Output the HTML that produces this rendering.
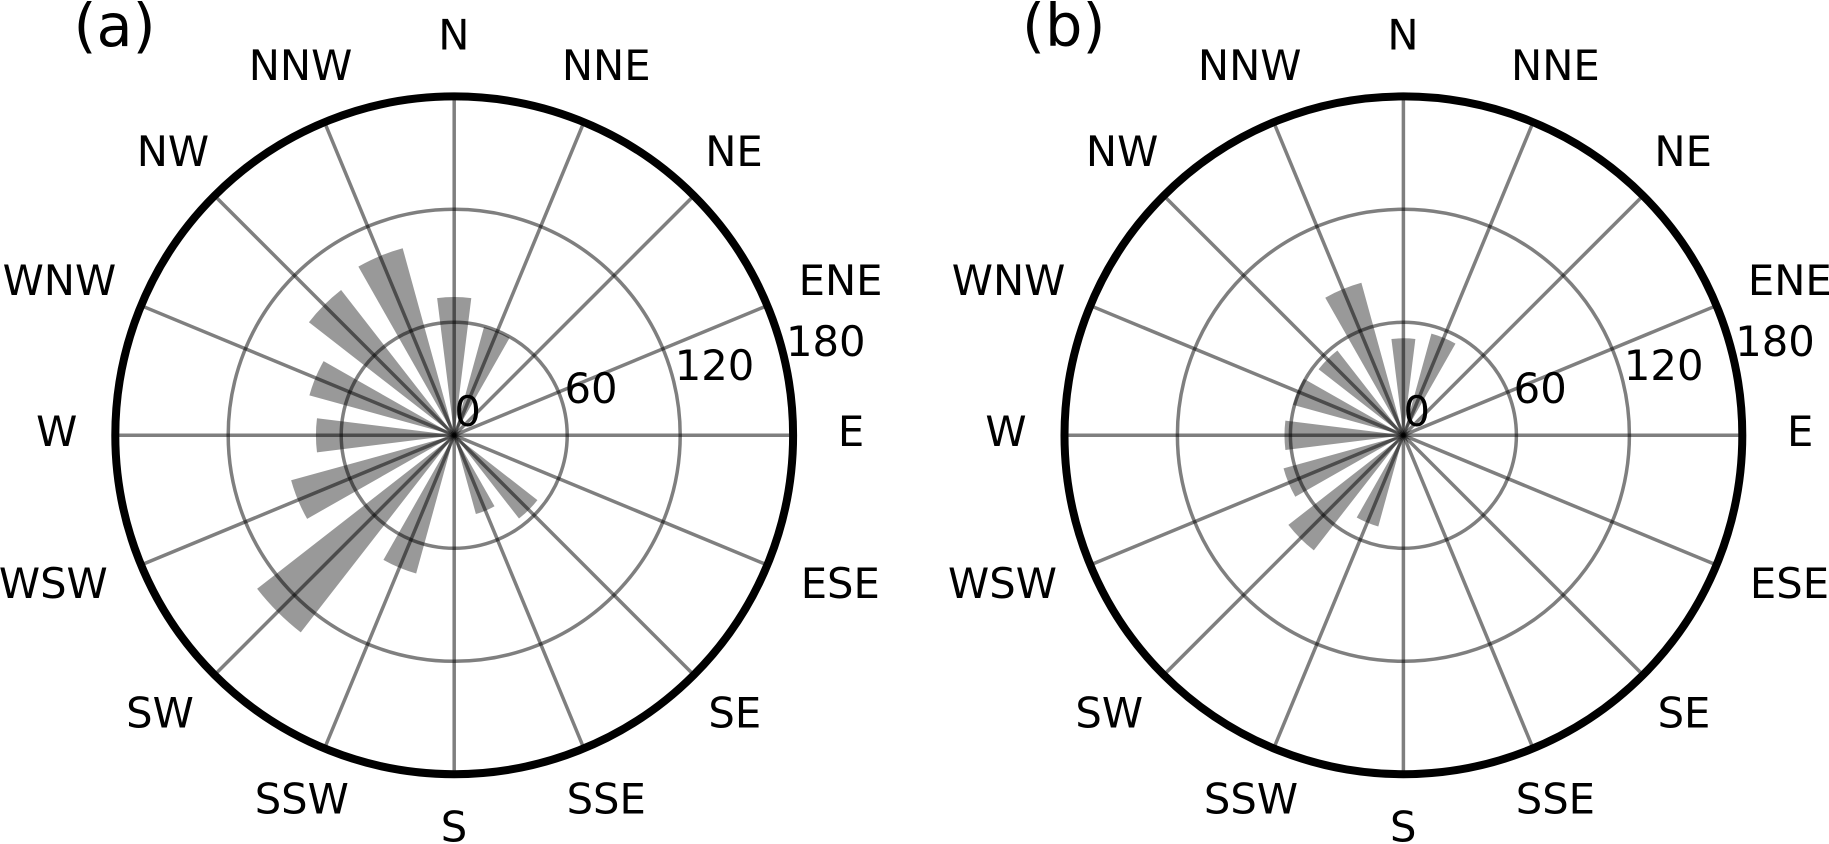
<!DOCTYPE html>
<html>
<head>
<meta charset="utf-8">
<style>
html,body{margin:0;padding:0;background:#fff;width:1829px;height:844px;overflow:hidden}
svg{display:block}
text{font-family:"DejaVu Sans","Liberation Sans",sans-serif;font-size:41.7px;fill:#000;text-anchor:middle}
.big{font-size:59px}
</style>
</head>
<body>
<svg width="1829" height="844" viewBox="0 0 1829 844" xmlns="http://www.w3.org/2000/svg">
<defs>
<g id="grid" fill="none" stroke="#000" stroke-opacity="0.5" stroke-width="3.5">
<circle r="113"/><circle r="226"/>
<path id="sp" d="M0 0V-339"/>
<path d="M0 0V-339" transform="rotate(22.5)"/>
<path d="M0 0V-339" transform="rotate(45)"/>
<path d="M0 0V-339" transform="rotate(67.5)"/>
<path d="M0 0V-339" transform="rotate(90)"/>
<path d="M0 0V-339" transform="rotate(112.5)"/>
<path d="M0 0V-339" transform="rotate(135)"/>
<path d="M0 0V-339" transform="rotate(157.5)"/>
<path d="M0 0V-339" transform="rotate(180)"/>
<path d="M0 0V-339" transform="rotate(202.5)"/>
<path d="M0 0V-339" transform="rotate(225)"/>
<path d="M0 0V-339" transform="rotate(247.5)"/>
<path d="M0 0V-339" transform="rotate(270)"/>
<path d="M0 0V-339" transform="rotate(292.5)"/>
<path d="M0 0V-339" transform="rotate(315)"/>
<path d="M0 0V-339" transform="rotate(337.5)"/>
</g>
</defs>

<!-- Panel a -->
<g transform="translate(454.2 435.3)">
<g fill="#000" fill-opacity="0.4" transform="scale(0.995)">
<path d="M0 0L-17.18 -137.9A139 139 0 0 1 17.18 -137.9Z"/>
<path transform="rotate(22.5)" d="M0 0L-13.97 -112.1A113 113 0 0 1 13.97 -112.1Z"/>
<path transform="rotate(135)" d="M0 0L-13.1 -105.2A106 106 0 0 1 13.1 -105.2Z"/>
<path transform="rotate(157.5)" d="M0 0L-10.14 -81.4A82 82 0 0 1 10.14 -81.4Z"/>
<path transform="rotate(202.5)" d="M0 0L-17.8 -142.9A144 144 0 0 1 17.8 -142.9Z"/>
<path transform="rotate(225)" d="M0 0L-31.02 -249.1A251 251 0 0 1 31.02 -249.1Z"/>
<path transform="rotate(247.5)" d="M0 0L-21.01 -168.7A170 170 0 0 1 21.01 -168.7Z"/>
<path transform="rotate(270)" d="M0 0L-17.18 -137.9A139 139 0 0 1 17.18 -137.9Z"/>
<path transform="rotate(292.5)" d="M0 0L-18.66 -149.8A151 151 0 0 1 18.66 -149.8Z"/>
<path transform="rotate(315)" d="M0 0L-22.87 -183.6A185 185 0 0 1 22.87 -183.6Z"/>
<path transform="rotate(337.5)" d="M0 0L-24.1 -193.5A195 195 0 0 1 24.1 -193.5Z"/>
</g>
<use href="#grid"/>
<circle r="338.9" fill="none" stroke="#000" stroke-width="8"/>
</g>
<g transform="translate(0 0.8)">
<text class="big" x="114.6" y="45">(a)</text>
<text x="453.8" y="48.5">N</text>
<text x="300.5" y="79">NNW</text>
<text x="606.2" y="79">NNE</text>
<text x="172.9" y="165">NW</text>
<text x="734" y="165">NE</text>
<text x="59.4" y="294">WNW</text>
<text x="840.6" y="294">ENE</text>
<text x="825.8" y="355">180</text>
<text x="714.5" y="379">120</text>
<text x="591" y="402">60</text>
<text x="467.6" y="425">0</text>
<text x="56.8" y="445">W</text>
<text x="851" y="445">E</text>
<text x="53.3" y="597">WSW</text>
<text x="840.3" y="597">ESE</text>
<text x="160" y="726.6">SW</text>
<text x="734.8" y="726.6">SE</text>
<text x="301.8" y="812.7">SSW</text>
<text x="606.2" y="812.7">SSE</text>
<text x="454" y="840.7">S</text>
</g>

<!-- Panel b -->
<g transform="translate(1403.4 435.3)">
<g fill="#000" fill-opacity="0.4" transform="scale(0.995)">
<path d="M0 0L-12.05 -96.75A97.5 97.5 0 0 1 12.05 -96.75Z"/>
<path transform="rotate(22.5)" d="M0 0L-13.1 -105.2A106 106 0 0 1 13.1 -105.2Z"/>
<path transform="rotate(202.5)" d="M0 0L-11.74 -94.3A95 95 0 0 1 11.74 -94.3Z"/>
<path transform="rotate(225)" d="M0 0L-18.1 -145.4A146.5 146.5 0 0 1 18.1 -145.4Z"/>
<path transform="rotate(247.5)" d="M0 0L-15.45 -124A125 125 0 0 1 15.45 -124Z"/>
<path transform="rotate(270)" d="M0 0L-14.77 -118.6A119.5 119.5 0 0 1 14.77 -118.6Z"/>
<path transform="rotate(292.5)" d="M0 0L-14.21 -114.1A115 115 0 0 1 14.21 -114.1Z"/>
<path transform="rotate(315)" d="M0 0L-13.35 -107.2A108 108 0 0 1 13.35 -107.2Z"/>
<path transform="rotate(337.5)" d="M0 0L-19.65 -157.8A159 159 0 0 1 19.65 -157.8Z"/>
</g>
<use href="#grid"/>
<circle r="338.9" fill="none" stroke="#000" stroke-width="8"/>
</g>
<g transform="translate(949.2 0.8)">
<text class="big" x="114.6" y="45">(b)</text>
<text x="453.8" y="48.5">N</text>
<text x="300.5" y="79">NNW</text>
<text x="606.2" y="79">NNE</text>
<text x="172.9" y="165">NW</text>
<text x="734" y="165">NE</text>
<text x="59.4" y="294">WNW</text>
<text x="840.6" y="294">ENE</text>
<text x="825.8" y="355">180</text>
<text x="714.5" y="379">120</text>
<text x="591" y="402">60</text>
<text x="467.6" y="425">0</text>
<text x="56.8" y="445">W</text>
<text x="851" y="445">E</text>
<text x="53.3" y="597">WSW</text>
<text x="840.3" y="597">ESE</text>
<text x="160" y="726.6">SW</text>
<text x="734.8" y="726.6">SE</text>
<text x="301.8" y="812.7">SSW</text>
<text x="606.2" y="812.7">SSE</text>
<text x="454" y="840.7">S</text>
</g>
</svg>
</body>
</html>
